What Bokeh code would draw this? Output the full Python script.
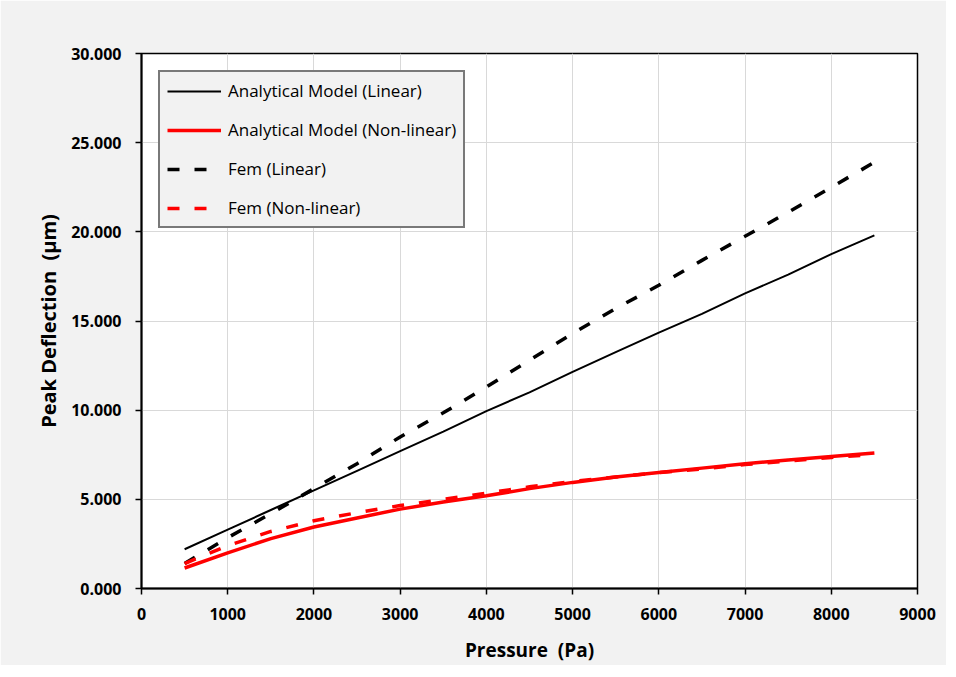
from bokeh.plotting import figure
from bokeh.models import Legend, LegendItem, FixedTicker, NumeralTickFormatter, Range1d
from bokeh.embed import file_html
from bokeh.resources import INLINE

pressure = [500, 1000, 1500, 2000, 2500, 3000, 3500, 4000, 4500,
            5000, 5500, 6000, 6500, 7000, 7500, 8000, 8500]
analytical_linear = [2.2, 3.3, 4.4, 5.5, 6.6, 7.7, 8.8, 9.95, 11.0,
                     12.15, 13.25, 14.35, 15.4, 16.55, 17.6, 18.75, 19.8]
analytical_nonlinear = [1.15, 2.0, 2.8, 3.45, 3.95, 4.45, 4.85, 5.2, 5.6,
                        5.95, 6.25, 6.5, 6.75, 7.0, 7.2, 7.4, 7.6]
fem_linear = [1.4, 2.85, 4.2, 5.6, 7.0, 8.5, 9.85, 11.3, 12.8,
              14.3, 15.7, 17.0, 18.4, 19.75, 21.1, 22.5, 23.9]
fem_nonlinear = [1.4, 2.4, 3.2, 3.8, 4.25, 4.65, 5.0, 5.35, 5.7,
                 6.0, 6.25, 6.5, 6.7, 6.95, 7.15, 7.35, 7.5]

x_ticks = [0, 1000, 2000, 3000, 4000, 5000, 6000, 7000, 8000, 9000]
y_ticks = [0, 5, 10, 15, 20, 25, 30]
series_labels = ["Analytical Model (Linear)", "Analytical Model (Non-linear)",
                 "Fem (Linear)", "Fem (Non-linear)"]

FONT = "Open Sans"

p = figure(width=946, height=665,
           x_range=Range1d(0, 9000), y_range=Range1d(0, 30),
           output_backend="svg", toolbar_location=None,
           min_border_left=141, min_border_top=53,
           min_border_right=29, min_border_bottom=73,
           background_fill_color="white", border_fill_color="#f2f2f2")

p.outline_line_color = "black"
p.outline_line_width = 1.5

r1 = p.line(pressure, analytical_linear, line_color="black", line_width=2)
r2 = p.line(pressure, analytical_nonlinear, line_color="#ff0000", line_width=3.5)
r3 = p.line(pressure, fem_linear, line_color="black", line_width=3.5, line_dash="12 15")
r4 = p.line(pressure, fem_nonlinear, line_color="#ff0000", line_width=3.5, line_dash="12 15")

p.xaxis.ticker = FixedTicker(ticks=x_ticks)
p.yaxis.ticker = FixedTicker(ticks=y_ticks)
p.yaxis.formatter = NumeralTickFormatter(format="0.000")

for ax in (p.xaxis, p.yaxis):
    ax.axis_line_color = "black"
    ax.axis_line_width = 2
    ax.major_tick_line_color = "black"
    ax.major_tick_line_width = 1.5
    ax.major_tick_out = 6
    ax.major_tick_in = 0
    ax.minor_tick_line_color = None
    ax.major_label_text_font = FONT
    ax.major_label_text_font_style = "bold"
    ax.major_label_text_font_size = "16px"
    ax.major_label_text_color = "black"
    ax.axis_label_text_font = FONT
    ax.axis_label_text_font_style = "bold"
    ax.axis_label_text_font_size = "19px"
    ax.axis_label_text_color = "black"

p.yaxis.axis_label_text_font_size = "20px"
p.xaxis.axis_label = "Pressure \u00a0(Pa)"
p.yaxis.axis_label = "Peak Deflection \u00a0(µm)"
p.xaxis.major_label_standoff = 13
p.yaxis.major_label_standoff = 14
p.xaxis.axis_label_standoff = 14
p.yaxis.axis_label_standoff = 6

p.grid.grid_line_color = "#d9d9d9"
p.grid.grid_line_width = 1

legend = Legend(items=[LegendItem(label=series_labels[0], renderers=[r1]),
                       LegendItem(label=series_labels[1], renderers=[r2]),
                       LegendItem(label=series_labels[2], renderers=[r3]),
                       LegendItem(label=series_labels[3], renderers=[r4])],
                location="top_left", margin=17, padding=7, spacing=16,
                glyph_width=54, glyph_height=20, label_height=21,
                label_standoff=7, label_text_font=FONT,
                label_text_font_size="17px", label_text_color="black",
                border_line_color="black", border_line_width=2,
                background_fill_color="#f2f2f2", background_fill_alpha=1)
p.add_layout(legend)

open("out.html", "w").write(file_html(p, INLINE))
